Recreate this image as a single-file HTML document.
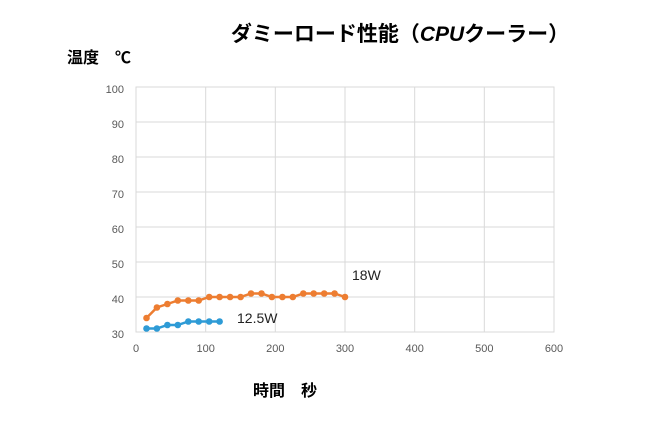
<!DOCTYPE html><html><head><meta charset="utf-8"><style>body{margin:0;background:#fff}</style></head><body>
<svg width="649" height="426" xmlns="http://www.w3.org/2000/svg" font-family="Liberation Sans, Noto Sans CJK JP, sans-serif">
<rect width="649" height="426" fill="#fff"/>
<text x="400" y="41" font-size="21" font-weight="bold" text-anchor="middle" fill="#000">ダミーロード性能（<tspan font-style="italic">CPU</tspan>クーラー）</text>
<text x="67" y="63" font-size="16" font-weight="bold" fill="#000">温度　℃</text>
<text x="253" y="396" font-size="16" font-weight="bold" fill="#000">時間　秒</text>
<g stroke="#d9d9d9" stroke-width="1" fill="none">
<rect x="136" y="87" width="418" height="245"/>
<path d="M205.7 87V332M275.3 87V332M345 87V332M414.7 87V332M484.3 87V332M136 122H554M136 157H554M136 192H554M136 227H554M136 262H554M136 297H554"/>
</g>
<g font-size="11" fill="#595959" text-anchor="end">
<text x="124" y="93">100</text><text x="124" y="128">90</text><text x="124" y="163">80</text><text x="124" y="198">70</text><text x="124" y="233">60</text><text x="124" y="268">50</text><text x="124" y="303">40</text><text x="124" y="338">30</text>
</g>
<g font-size="11" fill="#595959" text-anchor="middle">
<text x="136" y="352">0</text><text x="205.7" y="352">100</text><text x="275.3" y="352">200</text><text x="345" y="352">300</text><text x="414.7" y="352">400</text><text x="484.3" y="352">500</text><text x="554" y="352">600</text>
</g>
<polyline fill="none" stroke="#ed7d31" stroke-width="2.5" points="146.5,318 156.9,307.5 167.4,304 177.8,300.5 188.3,300.5 198.7,300.5 209.2,297 219.6,297 230.1,297 240.6,297 251,293.5 261.5,293.5 271.9,297 282.4,297 292.8,297 303.3,293.5 313.7,293.5 324.2,293.5 334.6,293.5 345,297"/>
<g fill="#ed7d31">
<circle cx="146.5" cy="318" r="3.3"/><circle cx="156.9" cy="307.5" r="3.3"/><circle cx="167.4" cy="304" r="3.3"/><circle cx="177.8" cy="300.5" r="3.3"/><circle cx="188.3" cy="300.5" r="3.3"/><circle cx="198.7" cy="300.5" r="3.3"/><circle cx="209.2" cy="297" r="3.3"/><circle cx="219.6" cy="297" r="3.3"/><circle cx="230.1" cy="297" r="3.3"/><circle cx="240.6" cy="297" r="3.3"/><circle cx="251" cy="293.5" r="3.3"/><circle cx="261.5" cy="293.5" r="3.3"/><circle cx="271.9" cy="297" r="3.3"/><circle cx="282.4" cy="297" r="3.3"/><circle cx="292.8" cy="297" r="3.3"/><circle cx="303.3" cy="293.5" r="3.3"/><circle cx="313.7" cy="293.5" r="3.3"/><circle cx="324.2" cy="293.5" r="3.3"/><circle cx="334.6" cy="293.5" r="3.3"/><circle cx="345" cy="297" r="3.3"/>
</g>
<polyline fill="none" stroke="#2e9bd6" stroke-width="2.5" points="146.5,328.5 156.9,328.5 167.4,325 177.8,325 188.3,321.5 198.7,321.5 209.2,321.5 219.6,321.5"/>
<g fill="#2e9bd6">
<circle cx="146.5" cy="328.5" r="3.3"/><circle cx="156.9" cy="328.5" r="3.3"/><circle cx="167.4" cy="325" r="3.3"/><circle cx="177.8" cy="325" r="3.3"/><circle cx="188.3" cy="321.5" r="3.3"/><circle cx="198.7" cy="321.5" r="3.3"/><circle cx="209.2" cy="321.5" r="3.3"/><circle cx="219.6" cy="321.5" r="3.3"/>
</g>
<text x="352" y="280" font-size="14" fill="#222">18W</text>
<text x="237" y="323" font-size="14" fill="#222">12.5W</text>
</svg>
</body></html>
